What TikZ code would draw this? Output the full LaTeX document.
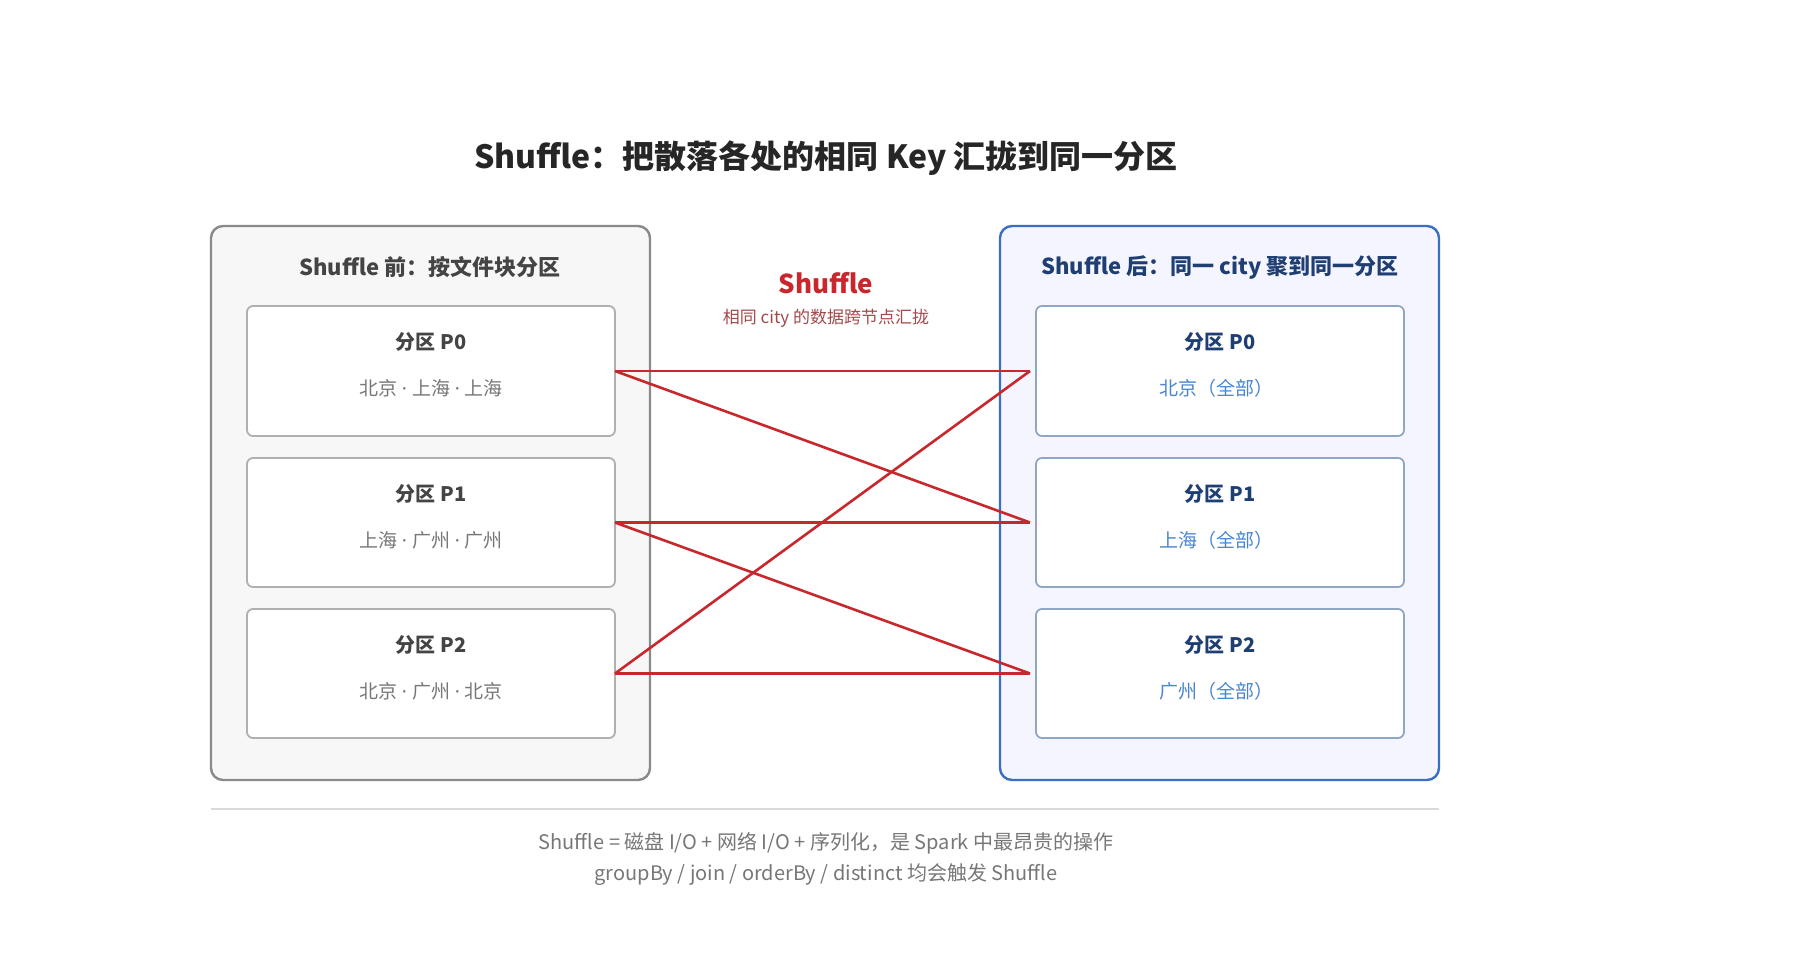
\documentclass[tikz,border=0pt]{standalone}
\usepackage{fontspec}
\setmainfont{Noto Sans CJK SC}
\newfontfamily\latinf{Noto Sans}
\newcommand{\md}{{\latinf\ ·\ }}
\begin{document}
\begin{tikzpicture}[x=0.5pt,y=-0.5pt,
  outer/.style={draw=#1,line width=1.2pt,rounded corners=6pt},
  inner/.style={draw=#1,fill=white,line width=0.9pt,rounded corners=3pt},
  every node/.style={inner sep=0pt}]
\definecolor{redc}{HTML}{C8282D}
\definecolor{grayb}{HTML}{8A8A8A}
\definecolor{grayi}{HTML}{B0B0B0}
\definecolor{blueb}{HTML}{3A6FC4}
\definecolor{bluei}{HTML}{8FA6C4}
\definecolor{darkb}{HTML}{1F3F73}
\definecolor{lblue}{HTML}{4A86CF}
\definecolor{txt}{HTML}{444444}
\definecolor{sub}{HTML}{777777}
\tikzset{link/.style={draw=redc,line width=1.3pt}}
\useasboundingbox (0,0) rectangle (1794,964);
\fill[white] (0,0) rectangle (1794,964);
\node (title) at (826,158) {\fontsize{16}{18}\selectfont\bfseries\color{black!85} Shuffle：把散落各处的相同 Key 汇拢到同一分区};
\path[outer=grayb,fill=black!3] (211,226) rectangle (650,780);
\node (lh) at (430,267) {\fontsize{11}{13}\selectfont\bfseries\color{txt} Shuffle 前：按文件块分区};
\path[outer=blueb,fill=blue!4] (1000,226) rectangle (1439,780);
\node (rh) at (1220,267) {\fontsize{11}{13}\selectfont\bfseries\color{darkb} Shuffle 后：同一 city 聚到同一分区};
\foreach \i/\t/\b/\s/\r in {0/306/436/北京\md 上海\md 上海/北京（全部）,1/458/587/上海\md 广州\md 广州/上海（全部）,2/609/738/北京\md 广州\md 北京/广州（全部）}{
  \path[inner=grayi] (247,\t) rectangle (615,\b);
  \path[inner=bluei] (1036,\t) rectangle (1404,\b);
  \node at (431,\t+36) {\fontsize{10}{12}\selectfont\bfseries\color{txt} 分区 P\i};
  \node at (431,\t+82) {\fontsize{9.5}{12}\selectfont\color{sub} \s};
  \node at (1220,\t+36) {\fontsize{10}{12}\selectfont\bfseries\color{darkb} 分区 P\i};
  \node at (1216,\t+82) {\fontsize{9.5}{12}\selectfont\color{lblue} \r};
  \coordinate (L\i) at (615,{(\t+\b)/2});
  \coordinate (R\i) at (1030,{(\t+\b)/2});
}
\node (sh) at (826,283) {\fontsize{13}{15}\selectfont\bfseries\color{redc} Shuffle};
\node (shs) at (826,318) {\fontsize{8.5}{10}\selectfont\color{redc!70!black!80} 相同 city 的数据跨节点汇拢};
\draw[link] (L0)--(R0); \draw[link] (L0)--(R1);
\draw[link] (L1)--(R1); \draw[link] (L1)--(R2);
\draw[link] (L2)--(R0); \draw[link] (L2)--(R2);
\draw[black!15,line width=0.8pt] (211,809) -- (1439,809);
\node (f1) at (826,843) {\fontsize{10}{12}\selectfont\color{sub} Shuffle = 磁盘 I/O + 网络 I/O + 序列化，是 Spark 中最昂贵的操作};
\node (f2) at (826,875) {\fontsize{10}{12}\selectfont\color{sub} groupBy / join / orderBy / distinct 均会触发 Shuffle};
\end{tikzpicture}
\end{document}
